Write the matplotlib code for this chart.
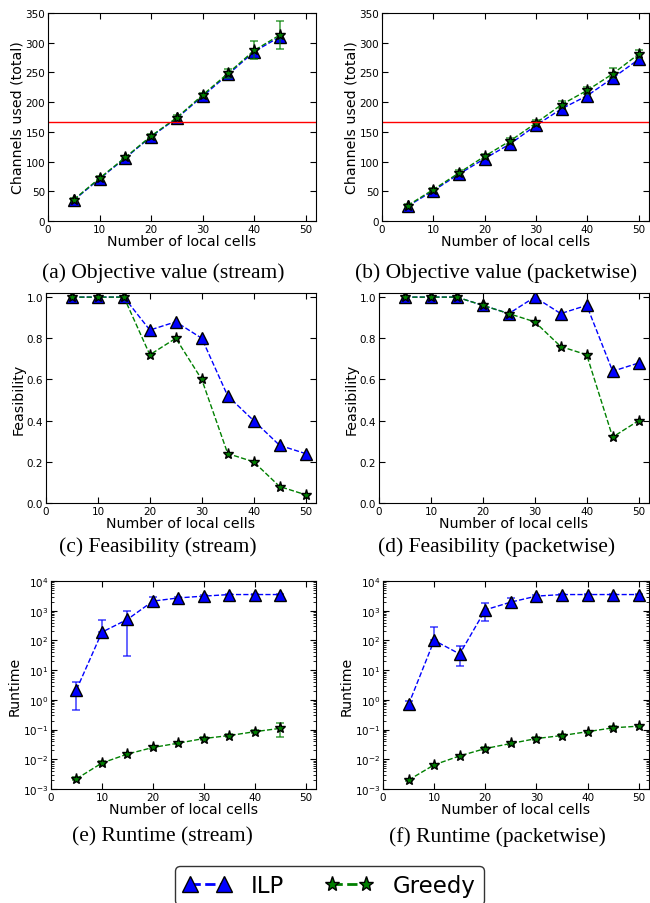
import numpy as np
import matplotlib
matplotlib.use('Agg')
import matplotlib.pyplot as plt
from matplotlib.lines import Line2D

# number of local cells
cells_stream = [5, 10, 15, 20, 25, 30, 35, 40, 45]
cells_packet = [5, 10, 15, 20, 25, 30, 35, 40, 45, 50]
cells_feas = [5, 10, 15, 20, 25, 30, 35, 40, 45, 50]

# (a) objective value, stream
obj_stream_ilp = [35, 71, 106, 142, 173, 210, 247, 285, 310]
obj_stream_greedy = [36, 72, 107, 143, 174, 212, 249, 287, 313]
obj_stream_greedy_lo = [33, 69, 104, 139, 170, 207, 241, 272, 290]
obj_stream_greedy_hi = [39, 75, 110, 147, 178, 216, 256, 303, 336]

# (b) objective value, packetwise
obj_packet_ilp = [25, 51, 79, 105, 130, 161, 189, 211, 241, 272]
obj_packet_greedy = [26, 53, 81, 109, 135, 165, 196, 220, 248, 281]
obj_packet_greedy_lo = [23, 50, 77, 105, 130, 160, 190, 214, 240, 274]
obj_packet_greedy_hi = [29, 56, 85, 113, 140, 170, 202, 226, 257, 288]

channel_limit = 166

# (c)/(d) feasibility
feas_stream_ilp = [1.0, 1.0, 1.0, 0.84, 0.88, 0.80, 0.52, 0.40, 0.28, 0.24]
feas_stream_greedy = [1.0, 1.0, 1.0, 0.72, 0.80, 0.60, 0.24, 0.20, 0.08, 0.04]
feas_packet_ilp = [1.0, 1.0, 1.0, 0.96, 0.92, 1.0, 0.92, 0.96, 0.64, 0.68]
feas_packet_greedy = [1.0, 1.0, 1.0, 0.96, 0.92, 0.88, 0.76, 0.72, 0.32, 0.40]

# (e) runtime, stream
rt_stream_ilp = [2.2, 190, 510, 2100, 2700, 3100, 3500, 3500, 3500]
rt_stream_ilp_lo = [0.45, 190, 31, 1500, 2500, 3000, 3400, 3400, 3400]
rt_stream_ilp_hi = [4.1, 470, 950, 3000, 3000, 3300, 3600, 3600, 3600]
rt_stream_greedy = [0.0022, 0.0075, 0.015, 0.025, 0.035, 0.05, 0.063, 0.085, 0.11]
rt_stream_greedy_lo = [0.002, 0.0065, 0.0135, 0.023, 0.032, 0.046, 0.058, 0.075, 0.058]
rt_stream_greedy_hi = [0.0025, 0.0085, 0.0165, 0.028, 0.038, 0.055, 0.069, 0.095, 0.17]

# (f) runtime, packetwise
rt_packet_ilp = [0.7, 100, 35, 1070, 1950, 3100, 3500, 3500, 3500, 3500]
rt_packet_ilp_lo = [0.55, 100, 13.5, 450, 1300, 2900, 3400, 3400, 3400, 3400]
rt_packet_ilp_hi = [0.95, 280, 65, 1800, 2700, 3300, 3600, 3600, 3600, 3600]
rt_packet_greedy = [0.002, 0.0065, 0.013, 0.023, 0.034, 0.05, 0.063, 0.085, 0.115, 0.13]
rt_packet_greedy_lo = [0.0018, 0.006, 0.012, 0.021, 0.031, 0.046, 0.058, 0.078, 0.1, 0.12]
rt_packet_greedy_hi = [0.0022, 0.0071, 0.014, 0.025, 0.037, 0.055, 0.069, 0.093, 0.135, 0.14]

captions = ['(a) Objective value (stream)', '(b) Objective value (packetwise)',
            '(c) Feasibility (stream)', '(d) Feasibility (packetwise)',
            '(e) Runtime (stream)', '(f) Runtime (packetwise)']

W, H = 650, 904
plt.rcParams['font.family'] = 'DejaVu Sans'
plt.rcParams['xtick.direction'] = 'in'
plt.rcParams['ytick.direction'] = 'in'
plt.rcParams['xtick.top'] = True
plt.rcParams['ytick.right'] = True
plt.rcParams['xtick.labelsize'] = 7.5
plt.rcParams['ytick.labelsize'] = 7.5
plt.rcParams['axes.labelsize'] = 10.2
plt.rcParams['xtick.major.size'] = 4
plt.rcParams['ytick.major.size'] = 4
plt.rcParams['xtick.minor.size'] = 2
plt.rcParams['ytick.minor.size'] = 2
plt.rcParams['xtick.major.pad'] = 2
plt.rcParams['ytick.major.pad'] = 2
plt.rcParams['axes.labelpad'] = 0.5

fig = plt.figure(figsize=(W / 100, H / 100), dpi=100)


def px_axes(left, top, right, bottom):
    return fig.add_axes([left / W, 1 - bottom / H, (right - left) / W, (bottom - top) / H])


blue = (0, 0, 1)
green = (0, 0.5, 0)
ilp_style = dict(color=blue, ls='--', marker='^', markersize=9, mfc=blue, mec='k', mew=1, lw=1)
greedy_style = dict(color=green, ls='--', marker='*', markersize=8, mfc=green, mec='k', mew=1, lw=1)


def err(vals, lo, hi):
    v = np.array(vals, dtype=float)
    return [v - np.array(lo), np.array(hi) - v]


def plot_series(ax, x, y, style, lo=None, hi=None):
    if lo is not None:
        ax.errorbar(x, y, yerr=err(y, lo, hi), fmt='none', ecolor=style['color'],
                    alpha=0.7, capsize=3, elinewidth=1.2, capthick=1.2)
    ax.plot(x, y, **style)


def finish(ax, ylabel, caption, cx, cy):
    ax.set_xlim(0, 52)
    ax.set_xticks([0, 10, 20, 30, 40, 50])
    ax.set_xlabel('Number of local cells')
    ax.set_ylabel(ylabel)
    fig.text(cx / W, 1 - cy / H, caption, family='Liberation Serif', fontsize=15.5,
             ha='center', va='center')


# (a)
ax = px_axes(48, 14, 316, 222)
plot_series(ax, cells_stream, obj_stream_ilp, ilp_style)
plot_series(ax, cells_stream, obj_stream_greedy, greedy_style, obj_stream_greedy_lo, obj_stream_greedy_hi)
ax.axhline(channel_limit, color='r', lw=1)
ax.set_ylim(0, 350)
finish(ax, 'Channels used (total)', captions[0], 163, 273)

# (b)
ax = px_axes(382, 14, 649, 222)
plot_series(ax, cells_packet, obj_packet_ilp, ilp_style)
plot_series(ax, cells_packet, obj_packet_greedy, greedy_style, obj_packet_greedy_lo, obj_packet_greedy_hi)
ax.axhline(channel_limit, color='r', lw=1)
ax.set_ylim(0, 350)
finish(ax, 'Channels used (total)', captions[1], 496, 273)

# (c)
ax = px_axes(46, 294, 316, 504)
plot_series(ax, cells_feas, feas_stream_ilp, ilp_style)
plot_series(ax, cells_feas, feas_stream_greedy, greedy_style)
ax.set_ylim(0, 1.02)
ax.set_yticks([0, 0.2, 0.4, 0.6, 0.8, 1.0])
finish(ax, 'Feasibility', captions[2], 158, 547)

# (d)
ax = px_axes(379, 294, 649, 504)
plot_series(ax, cells_feas, feas_packet_ilp, ilp_style)
plot_series(ax, cells_feas, feas_packet_greedy, greedy_style)
ax.set_ylim(0, 1.02)
ax.set_yticks([0, 0.2, 0.4, 0.6, 0.8, 1.0])
finish(ax, 'Feasibility', captions[3], 497, 547)

# (e)
ax = px_axes(51, 582, 316, 790)
ax.set_yscale('log')
plot_series(ax, cells_stream, rt_stream_ilp, ilp_style, rt_stream_ilp_lo, rt_stream_ilp_hi)
plot_series(ax, cells_stream, rt_stream_greedy, greedy_style, rt_stream_greedy_lo, rt_stream_greedy_hi)
ax.set_ylim(1e-3, 1e4)
finish(ax, 'Runtime', captions[4], 162, 837)

# (f)
ax = px_axes(383, 582, 649, 790)
ax.set_yscale('log')
plot_series(ax, cells_packet, rt_packet_ilp, ilp_style, rt_packet_ilp_lo, rt_packet_ilp_hi)
plot_series(ax, cells_packet, rt_packet_greedy, greedy_style, rt_packet_greedy_lo, rt_packet_greedy_hi)
ax.set_ylim(1e-3, 1e4)
finish(ax, 'Runtime', captions[5], 497, 837)

leg_ilp = dict(ilp_style, markersize=11, lw=2)
leg_greedy = dict(greedy_style, markersize=11, lw=2)
handles = [Line2D([], [], **leg_ilp), Line2D([], [], **leg_greedy)]
leg = fig.legend(handles, ['ILP', 'Greedy'], loc='upper left', bbox_to_anchor=(175 / W, 1 - 867 / H),
                 ncol=2, numpoints=2, fontsize=16.5, handlelength=2.1, handletextpad=0.85,
                 columnspacing=1.8, borderpad=0.35, frameon=True, fancybox=True, borderaxespad=0)
leg.get_frame().set_edgecolor('k')
leg.get_frame().set_linewidth(1)

fig.savefig('out.png', dpi=100)
